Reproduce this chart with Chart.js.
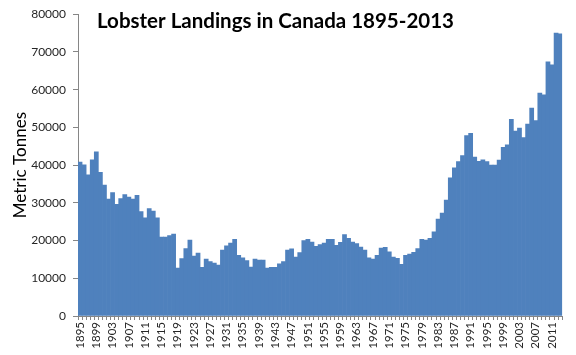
<!DOCTYPE html>
<html>
<head>
<meta charset="utf-8">
<script src="https://cdn.jsdelivr.net/npm/chart.js@4"></script>
<style>
  html, body { margin: 0; padding: 0; background: #fff; }
  #wrap { position: relative; width: 576px; height: 355px; }
</style>
</head>
<body>
<div id="wrap"><canvas id="c" width="576" height="355"></canvas></div>
<script>
const chartTitle = "Lobster Landings in Canada 1895-2013";
const yAxisTitle = "Metric Tonnes";
const firstYear = 1895;
const lastYear = 2013;
const years = [];
for (let y = firstYear; y <= lastYear; y++) years.push(String(y));
const yTicks = [0, 10000, 20000, 30000, 40000, 50000, 60000, 70000, 80000];
const landings = [
  40800, 40100, 37400, 41400, 43500, 38100, 34700, 31000, 32700, 29600,
  31100, 32200, 31500, 31000, 32000, 27700, 26000, 28500, 27800, 26000,
  20900, 20900, 21300, 21700, 12700, 15200, 17900, 20100, 15900, 16700,
  12900, 15100, 14400, 14000, 13500, 17500, 18600, 19300, 20300, 16100,
  15400, 14700, 13000, 15100, 14800, 14800, 12700, 12900, 12900, 13800,
  14400, 17500, 17800, 15600, 16800, 20000, 20300, 19600, 18500, 18900,
  19300, 20300, 20300, 18700, 19500, 21600, 20600, 19600, 19200, 18300,
  17500, 15400, 15100, 16100, 18000, 18200, 17000, 15600, 15300, 13700,
  16100, 16400, 16900, 17900, 20300, 20100, 20600, 22300, 25700, 27300,
  30700, 36600, 39300, 40900, 42500, 47800, 48400, 42100, 41000, 41400,
  40900, 40000, 40000, 41300, 44700, 45400, 52100, 49000, 49800, 47300,
  50900, 55100, 51800, 59100, 58600, 67400, 66600, 75000, 74800
];

const titlePlugin = {
  id: 'insideTitle',
  afterDraw(chart) {
    const ctx = chart.ctx;
    ctx.save();
    ctx.font = 'bold 20.5px Lato, "Open Sans", sans-serif';
    ctx.fillStyle = '#000';
    ctx.textAlign = 'left';
    ctx.textBaseline = 'alphabetic';
    ctx.fillText(chartTitle, 97, 28);
    ctx.restore();
  }
};

new Chart(document.getElementById('c'), {
  type: 'bar',
  data: {
    labels: years,
    datasets: [{
      data: landings,
      backgroundColor: '#4F81BD',
      borderWidth: 0,
      barPercentage: 1.0,
      categoryPercentage: 1.0
    }]
  },
  options: {
    responsive: false,
    animation: false,
    devicePixelRatio: 1,
    layout: { padding: { top: 9, right: 8, left: 0, bottom: 0 } },
    plugins: { legend: { display: false }, tooltip: { enabled: false }, title: { display: false } },
    scales: {
      x: {
        grid: { display: true, offset: true, drawOnChartArea: false, drawTicks: true, tickLength: 4, color: '#868686' },
        border: { display: true, color: '#868686' },
        ticks: {
          autoSkip: false,
          maxRotation: 90,
          minRotation: 90,
          padding: 2,
          color: '#262626',
          font: { family: 'Lato, "Open Sans", sans-serif', size: 11.5 },
          callback: function(value, index) {
            return (index % 4 === 0) ? years[index] : '';
          }
        },
        afterFit: function(scale) { scale.height = 39; }
      },
      y: {
        min: 0,
        max: 80000,
        afterBuildTicks: function(scale) { scale.ticks = yTicks.map(v => ({ value: v })); },
        grid: { display: true, drawOnChartArea: false, drawTicks: true, tickLength: 5, color: '#868686' },
        border: { display: true, color: '#868686' },
        ticks: {
          padding: 7,
          color: '#262626',
          font: { family: 'Lato, "Open Sans", sans-serif', size: 12 },
          callback: function(v) { return String(v); }
        },
        title: {
          display: true,
          text: yAxisTitle,
          color: '#000',
          font: { family: 'Lato, "Open Sans", sans-serif', size: 17 },
          padding: { top: 10, bottom: 0 }
        },
        afterFit: function(scale) { scale.width = 78; }
      }
    }
  },
  plugins: [titlePlugin]
});
</script>
</body>
</html>
